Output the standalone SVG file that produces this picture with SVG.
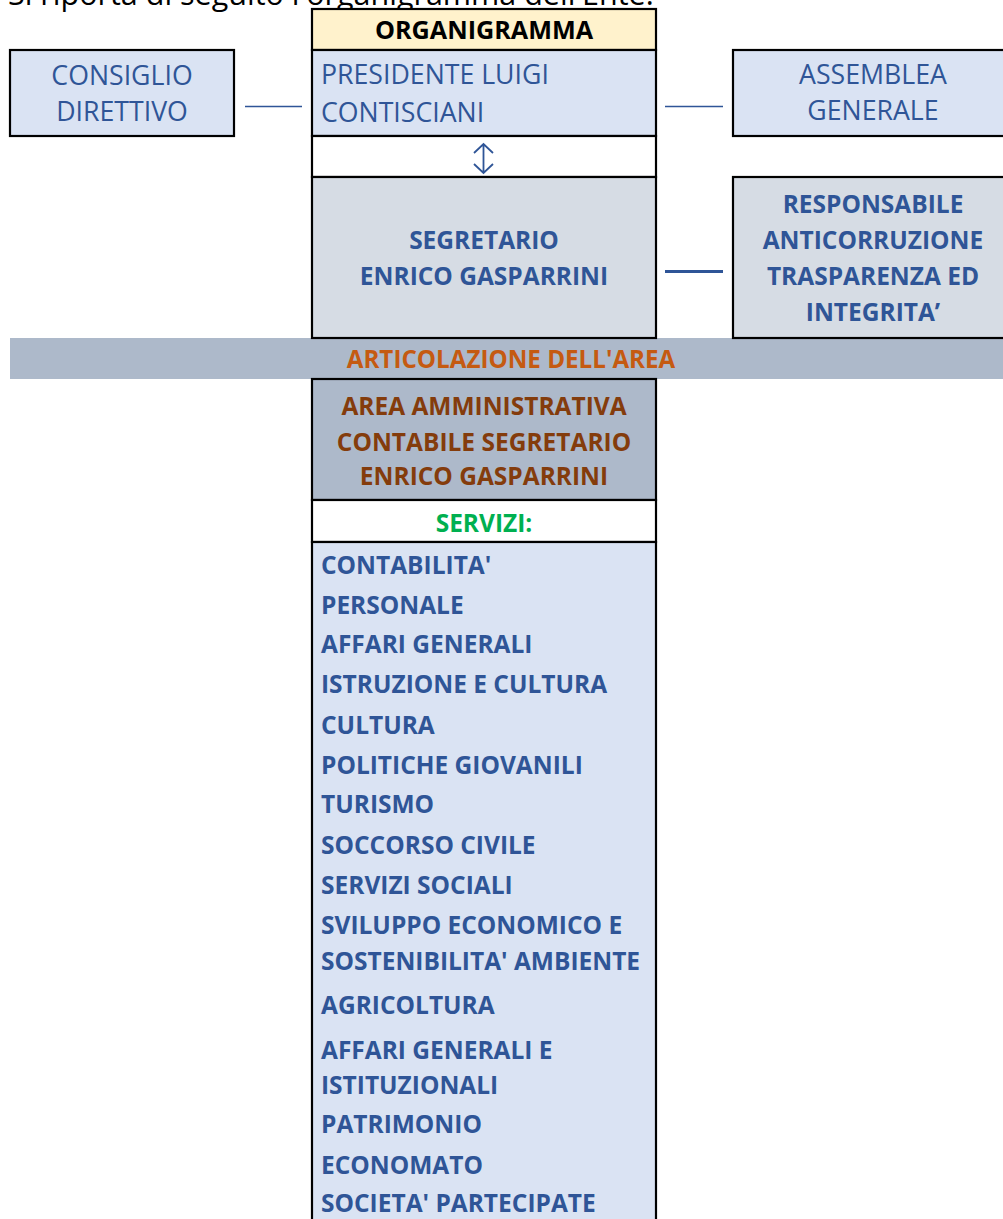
<svg xmlns="http://www.w3.org/2000/svg" width="1003" height="1219" viewBox="0 0 1003 1219">
<style>
.box{stroke:#000;stroke-width:2.2}
.blue{fill:#DAE3F3}
.gray{fill:#D6DCE4}
.band{fill:#ADB9CA}
.yel{fill:#FFF2CC}
.wht{fill:#FFFFFF}
text{font-family:"Open Sans","Noto Sans","Liberation Sans",sans-serif}
.r{font-size:26.7px;fill:#2F5597}
.b{font-size:24.5px;font-weight:bold;fill:#2F5597}
.c{text-anchor:middle}
.conn{stroke:#2F5597;fill:none}
</style>
<rect width="1003" height="1219" fill="#FFFFFF"/>
<text x="8" y="5" style="font-size:30.5px;fill:#000">Si riporta di seguito l'organigramma dell'Ente.</text>
<g id="band">
<rect x="10" y="338" width="1000" height="41" class="band"/>
<text x="511" y="368" class="c" style="font-size:24.2px;font-weight:bold;fill:#C55A11">ARTICOLAZIONE DELL'AREA</text>
</g>
<g id="organigramma">
<rect x="312" y="9" width="344" height="41" class="box yel"/>
<text x="484" y="39" class="c" style="font-size:25.2px;font-weight:bold;fill:#000">ORGANIGRAMMA</text>
</g>
<g id="presidente">
<rect x="312" y="50" width="344" height="86" class="box blue"/>
<text x="321" y="84" class="r">PRESIDENTE LUIGI</text>
<text x="321" y="122" class="r">CONTISCIANI</text>
</g>
<g id="consiglio">
<rect x="10" y="50" width="224" height="86" class="box blue"/>
<text x="122" y="85" class="r c">CONSIGLIO</text>
<text x="122" y="121" class="r c">DIRETTIVO</text>
</g>
<g id="assemblea">
<rect x="733" y="50" width="290" height="86" class="box blue"/>
<text x="873" y="84" class="r c">ASSEMBLEA</text>
<text x="873" y="120" class="r c">GENERALE</text>
</g>
<g id="freccia">
<rect x="312" y="136" width="344" height="41" class="box wht"/>
</g>
<g id="segretario">
<rect x="312" y="177" width="344" height="161" class="box gray"/>
<text x="484" y="249" class="b c">SEGRETARIO</text>
<text x="484" y="285" class="b c">ENRICO GASPARRINI</text>
</g>
<g id="responsabile">
<rect x="733" y="177" width="290" height="161" class="box gray"/>
<text x="873" y="213" class="b c">RESPONSABILE</text>
<text x="873" y="249" class="b c">ANTICORRUZIONE</text>
<text x="873" y="285" class="b c">TRASPARENZA ED</text>
<text x="873" y="321" class="b c">INTEGRITA’</text>
</g>
<g id="area">
<rect x="312" y="379" width="344" height="121" class="box band"/>
<text x="484" y="415" class="c" style="font-size:24.5px;font-weight:bold;fill:#843C0C">AREA AMMINISTRATIVA</text>
<text x="484" y="451" class="c" style="font-size:24.5px;font-weight:bold;fill:#843C0C">CONTABILE SEGRETARIO</text>
<text x="484" y="485" class="c" style="font-size:24.5px;font-weight:bold;fill:#843C0C">ENRICO GASPARRINI</text>
</g>
<g id="servizi">
<rect x="312" y="500" width="344" height="42" class="box wht"/>
<text x="484" y="532" class="c" style="font-size:24.5px;font-weight:bold;fill:#00B050">SERVIZI:</text>
</g>
<g id="elenco">
<rect x="312" y="542" width="344" height="690" class="box blue"/>
<text x="321" y="574" class="b">CONTABILITA'</text>
<text x="321" y="614" class="b">PERSONALE</text>
<text x="321" y="653" class="b">AFFARI GENERALI</text>
<text x="321" y="693" class="b">ISTRUZIONE E CULTURA</text>
<text x="321" y="734" class="b">CULTURA</text>
<text x="321" y="774" class="b">POLITICHE GIOVANILI</text>
<text x="321" y="813" class="b">TURISMO</text>
<text x="321" y="854" class="b">SOCCORSO CIVILE</text>
<text x="321" y="894" class="b">SERVIZI SOCIALI</text>
<text x="321" y="934" class="b">SVILUPPO ECONOMICO E</text>
<text x="321" y="970" class="b">SOSTENIBILITA' AMBIENTE</text>
<text x="321" y="1014" class="b">AGRICOLTURA</text>
<text x="321" y="1059" class="b">AFFARI GENERALI E</text>
<text x="321" y="1094" class="b">ISTITUZIONALI</text>
<text x="321" y="1133" class="b">PATRIMONIO</text>
<text x="321" y="1174" class="b">ECONOMATO</text>
<text x="321" y="1212" class="b">SOCIETA' PARTECIPATE</text>
</g>
<g id="connectors">
<line x1="245" y1="106.5" x2="302" y2="106.5" class="conn" stroke-width="1.5"/>
<line x1="665" y1="106.5" x2="723" y2="106.5" class="conn" stroke-width="1.5"/>
<line x1="665" y1="271.5" x2="723" y2="271.5" class="conn" stroke-width="3"/>
<path d="M483.5 144 V173 M474 153 L483.5 144 L493 153 M474 164 L483.5 173 L493 164" class="conn" stroke-width="1.8"/>
</g>
</svg>
